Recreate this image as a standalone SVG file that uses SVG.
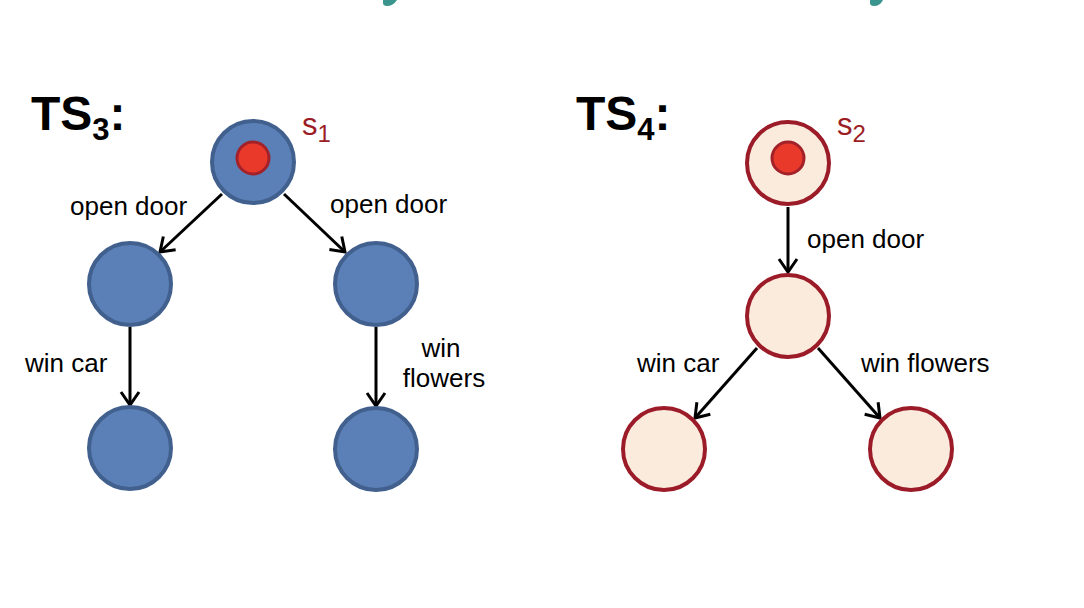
<svg xmlns="http://www.w3.org/2000/svg" width="1084" height="608" viewBox="0 0 1084 608">
<defs>
<style>
.lbl{font-family:"Liberation Sans",Arial,sans-serif;font-size:26px;fill:#000}
.title{font-family:"Liberation Sans",Arial,sans-serif;font-size:48px;font-weight:bold;fill:#000}
.sname{font-family:"Liberation Sans",Arial,sans-serif;font-size:31px;fill:#9b1c24}
.blue{fill:#5a80b7;stroke:#41608e;stroke-width:4}
.peach{fill:#fbebdd;stroke:#9b1c28;stroke-width:4}
.init{fill:#e8392b;stroke:#a3222a;stroke-width:3}
.edge{stroke:#000;stroke-width:3;fill:none;marker-end:url(#arr)}
</style>
<marker id="arr" markerUnits="userSpaceOnUse" markerWidth="20" markerHeight="20" refX="15" refY="9" orient="auto" overflow="visible">
<path d="M2,0 L15,9 L2,18" fill="none" stroke="#000" stroke-width="3"/>
</marker>
</defs>
<rect width="1084" height="608" fill="#fff"/>
<path d="M383,0 L397,0 Q393,6 387,6 Q383,6 383,3 Z" fill="#3a958e"/>
<path d="M870,0 L883,0 Q880,6 874,6 Q870,6 870,3 Z" fill="#3a958e"/>

<g id="title-ts3"><text class="title" x="31" y="130">TS<tspan font-size="31" dy="10">3</tspan><tspan dy="-10">:</tspan></text></g>
<g id="title-ts4"><text class="title" x="576" y="130">TS<tspan font-size="31" dy="10">4</tspan><tspan dy="-10">:</tspan></text></g>

<g id="connectors">
<line class="edge" x1="222" y1="194" x2="160" y2="252"/>
<line class="edge" x1="284" y1="194" x2="345" y2="252"/>
<line class="edge" x1="130" y1="327" x2="130" y2="405"/>
<line class="edge" x1="376" y1="327" x2="376" y2="406"/>
<line class="edge" x1="788" y1="207" x2="788" y2="272"/>
<line class="edge" x1="757" y1="348" x2="695" y2="418"/>
<line class="edge" x1="818" y1="348" x2="880" y2="418"/>
<text class="lbl" x="70" y="215">open door</text>
<text class="lbl" x="330" y="213">open door</text>
<text class="lbl" x="25" y="372">win car</text>
<text class="lbl" x="441" y="357" text-anchor="middle">win</text>
<text class="lbl" x="444" y="387" text-anchor="middle">flowers</text>
<text class="lbl" x="807" y="248">open door</text>
<text class="lbl" x="637" y="372">win car</text>
<text class="lbl" x="861" y="372">win flowers</text>
</g>

<g id="ts3-s1">
<circle class="blue" cx="253" cy="162" r="41"/>
<circle class="init" cx="253" cy="158" r="16"/>
<text class="sname" x="302" y="135">s<tspan font-size="24" dy="7">1</tspan></text>
</g>
<g id="ts3-n2"><circle class="blue" cx="130" cy="284" r="41"/></g>
<g id="ts3-n3"><circle class="blue" cx="376" cy="284" r="41"/></g>
<g id="ts3-n4"><circle class="blue" cx="130" cy="448" r="41"/></g>
<g id="ts3-n5"><circle class="blue" cx="376" cy="449" r="41"/></g>

<g id="ts4-s2">
<circle class="peach" cx="788" cy="163" r="41"/>
<circle class="init" cx="788" cy="158" r="16"/>
<text class="sname" x="837" y="135">s<tspan font-size="24" dy="7">2</tspan></text>
</g>
<g id="ts4-n2"><circle class="peach" cx="788" cy="316" r="41"/></g>
<g id="ts4-n3"><circle class="peach" cx="664" cy="449" r="41"/></g>
<g id="ts4-n4"><circle class="peach" cx="911" cy="449" r="41"/></g>
</svg>
